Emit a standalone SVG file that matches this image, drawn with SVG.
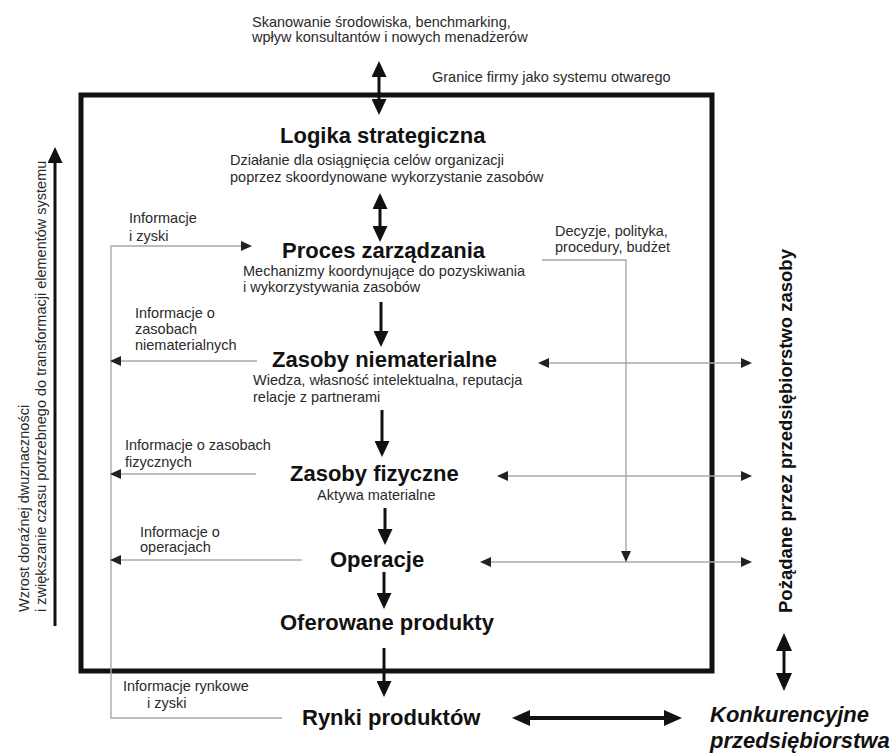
<svg xmlns="http://www.w3.org/2000/svg" width="892" height="753" viewBox="0 0 892 753">
  <style>
    text { font-family: "Liberation Sans", Arial, sans-serif; }
    .title { font-size: 22px; font-weight: bold; fill: #111; }
    .sub { font-size: 14.5px; fill: #2a2a2a; }
    .side { font-size: 18.5px; font-weight: bold; fill: #111; }
    .comp { font-size: 22px; font-weight: bold; font-style: italic; fill: #111; }
    .flow { stroke: #111; stroke-width: 3; fill: none; }
    .flow-wide { stroke: #111; stroke-width: 4; fill: none; }
    .info { stroke: #a8a8a8; stroke-width: 1.4; fill: none; }
  </style>
  <defs>
    <marker id="ah" viewBox="0 0 16 15" refX="6" refY="7.5" markerWidth="16" markerHeight="15" markerUnits="userSpaceOnUse" orient="auto-start-reverse">
      <path d="M0,0 L16,7.5 L0,15 Z" fill="#111"/>
    </marker>
    <marker id="ab" viewBox="0 0 18 16" refX="6" refY="8" markerWidth="18" markerHeight="16" markerUnits="userSpaceOnUse" orient="auto-start-reverse">
      <path d="M0,0 L18,8 L0,16 Z" fill="#111"/>
    </marker>
    <marker id="ag" viewBox="0 0 11 10" refX="4" refY="5" markerWidth="11" markerHeight="10" markerUnits="userSpaceOnUse" orient="auto-start-reverse">
      <path d="M0,0 L11,5 L0,10 Z" fill="#222"/>
    </marker>
  </defs>

  <rect width="892" height="753" fill="#fff"/>

  <!-- firm boundary (open system) -->
  <g id="boundary">
    <rect x="81" y="95" width="631" height="576" fill="none" stroke="#111" stroke-width="5"/>
    <text class="sub" x="432" y="82">Granice firmy jako systemu otwarego</text>
  </g>

  <g id="connectors">
    <!-- main flow -->
    <line class="flow" x1="379" y1="71" x2="379" y2="105" marker-start="url(#ah)" marker-end="url(#ah)"/>
    <line class="flow" x1="380" y1="203" x2="380" y2="232" marker-start="url(#ah)" marker-end="url(#ah)"/>
    <line class="flow" x1="381" y1="302" x2="381" y2="337" marker-end="url(#ah)"/>
    <line class="flow" x1="382" y1="410" x2="382" y2="447" marker-end="url(#ah)"/>
    <line class="flow" x1="385" y1="508" x2="385" y2="535" marker-end="url(#ah)"/>
    <line class="flow" x1="384" y1="572" x2="384" y2="599" marker-end="url(#ah)"/>
    <line class="flow" x1="384" y1="648" x2="384" y2="687" marker-end="url(#ah)"/>
    <line class="flow-wide" x1="524" y1="718" x2="670" y2="718" marker-start="url(#ab)" marker-end="url(#ab)"/>
    <line class="flow" x1="784" y1="645" x2="784" y2="679" marker-start="url(#ab)" marker-end="url(#ab)"/>
    <line class="flow" x1="55" y1="626" x2="55" y2="157" marker-end="url(#ah)"/>

    <!-- information feedback -->
    <path class="info" d="M282,718 H111 V246 H245" marker-end="url(#ag)"/>
    <path class="info" d="M257,361 H117" marker-end="url(#ag)"/>
    <path class="info" d="M256,474 H117" marker-end="url(#ag)"/>
    <path class="info" d="M302,560 H117" marker-end="url(#ag)"/>

    <!-- resource exchange across the boundary -->
    <path class="info" d="M545,363 H745" marker-start="url(#ag)" marker-end="url(#ag)"/>
    <path class="info" d="M504,476 H745" marker-start="url(#ag)" marker-end="url(#ag)"/>
    <path class="info" d="M487,562 H745" marker-start="url(#ag)" marker-end="url(#ag)"/>

    <!-- decisions, policy, procedures -->
    <path class="info" d="M542,260 H626 V555" marker-end="url(#ag)"/>
  </g>

  <g id="environment-scan">
    <text class="sub" x="252" y="27">Skanowanie środowiska, benchmarking,</text>
    <text class="sub" x="252" y="42">wpływ konsultantów i nowych menadżerów</text>
  </g>

  <g id="strategic-logic">
    <text class="title" x="280" y="143">Logika strategiczna</text>
    <text class="sub" x="230" y="165">Działanie dla osiągnięcia celów organizacji</text>
    <text class="sub" x="230" y="182">poprzez skoordynowane wykorzystanie zasobów</text>
  </g>

  <g id="management-process">
    <text class="title" x="282" y="258">Proces zarządzania</text>
    <text class="sub" x="243" y="276">Mechanizmy koordynujące do pozyskiwania</text>
    <text class="sub" x="243" y="292">i wykorzystywania zasobów</text>
  </g>

  <g id="intangible-resources">
    <text class="title" x="272" y="367">Zasoby niematerialne</text>
    <text class="sub" x="253" y="385">Wiedza, własność intelektualna, reputacja</text>
    <text class="sub" x="253" y="402">relacje z partnerami</text>
  </g>

  <g id="physical-resources">
    <text class="title" x="290" y="481">Zasoby fizyczne</text>
    <text class="sub" x="317" y="500">Aktywa materialne</text>
  </g>

  <g id="operations">
    <text class="title" x="330" y="567">Operacje</text>
  </g>

  <g id="products">
    <text class="title" x="280" y="630">Oferowane produkty</text>
  </g>

  <g id="product-markets">
    <text class="title" x="302" y="725">Rynki produktów</text>
  </g>

  <g id="competitors">
    <text class="comp" x="710" y="722">Konkurencyjne</text>
    <text class="comp" x="710" y="748">przedsiębiorstwa</text>
  </g>

  <g id="labels">
    <text class="sub" x="129" y="223">Informacje</text>
    <text class="sub" x="129" y="241">i zyski</text>
    <text class="sub" x="555" y="236">Decyzje, polityka,</text>
    <text class="sub" x="555" y="252">procedury, budżet</text>
    <text class="sub" x="135" y="318">Informacje o</text>
    <text class="sub" x="135" y="334">zasobach</text>
    <text class="sub" x="135" y="350">niematerialnych</text>
    <text class="sub" x="125" y="450">Informacje o zasobach</text>
    <text class="sub" x="125" y="467">fizycznych</text>
    <text class="sub" x="140" y="537">Informacje o</text>
    <text class="sub" x="140" y="552">operacjach</text>
    <text class="sub" x="123" y="691">Informacje rynkowe</text>
    <text class="sub" x="147" y="708">i zyski</text>
  </g>

  <g id="desired-resources">
    <text class="side" transform="translate(792,613) rotate(-90)">Pożądane przez przedsiębiorstwo zasoby</text>
  </g>

  <g id="ambiguity-axis">
    <text class="sub" transform="translate(29,612) rotate(-90)">
      <tspan x="0" y="0">Wzrost doraźnej dwuznaczności</tspan>
      <tspan x="0" y="17">i zwiększanie czasu potrzebnego do transformacji elementów systemu</tspan>
    </text>
  </g>
</svg>
